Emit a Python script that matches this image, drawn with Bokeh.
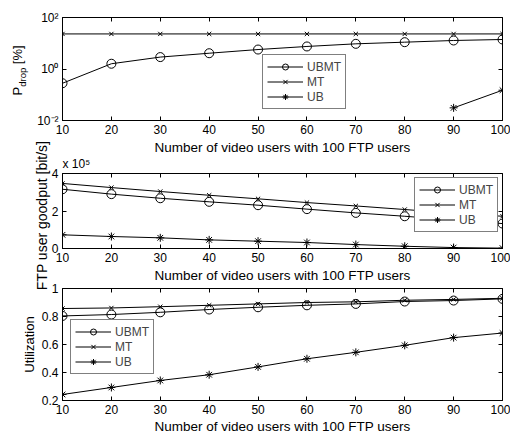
import math
from bokeh.plotting import figure
from bokeh.layouts import column
from bokeh.models import LinearAxis, LogAxis, FixedTicker, Range1d, GridBox
from bokeh.core.properties import value
from bokeh.embed import file_html
from bokeh.resources import INLINE

# ---------------- data ----------------
users = [10, 20, 30, 40, 50, 60, 70, 80, 90, 100]
series_names = ["UBMT", "MT", "UB"]

# P_drop [%]
pdrop_ubmt = [0.28, 1.6, 2.9, 4.1, 5.7, 7.5, 9.5, 11.0, 12.8, 14.0]
pdrop_mt = [23, 23, 23, 23, 23, 23, 23, 23, 23, 23]
pdrop_ub = [math.nan, math.nan, math.nan, math.nan, math.nan, math.nan, math.nan, math.nan, 0.031, 0.15]
pdrop_ticks = [0.01, 1, 100]
pdrop_tick_labels = {0.01: "10\u207b\u00b2", 1: "10\u2070", 100: "10\u00b2"}

# FTP user goodput [bit/s], in units of 1e5
goodput_ubmt = [3.16, 2.90, 2.68, 2.49, 2.31, 2.10, 1.90, 1.72, 1.52, 1.33]
goodput_mt = [3.47, 3.25, 3.04, 2.84, 2.65, 2.45, 2.27, 2.08, 1.88, 1.72]
goodput_ub = [0.73, 0.64, 0.57, 0.46, 0.39, 0.32, 0.21, 0.12, 0.05, 0.02]
goodput_ticks = [0, 2, 4]

# Utilization
util_ubmt = [0.804, 0.814, 0.830, 0.850, 0.866, 0.880, 0.890, 0.907, 0.914, 0.926]
util_mt = [0.857, 0.861, 0.870, 0.880, 0.890, 0.900, 0.905, 0.916, 0.922, 0.930]
util_ub = [0.243, 0.293, 0.343, 0.384, 0.440, 0.498, 0.544, 0.594, 0.649, 0.682]
util_ticks = [0.2, 0.4, 0.6, 0.8, 1]

xlabel = "Number of video users with 100 FTP users"
ylabel_goodput = "FTP user goodput [bit/s]"
ylabel_util = "Utilization"
goodput_multiplier = "x 10\u2075"

FONT = "Liberation Sans"
TICK_FS = "12px"

markers = {"UBMT": ("circle", 9), "MT": ("x", 6), "UB": ("asterisk", 8)}

W = 510
H1, H2, H3 = 155, 128, 151
BL, BR = 62, 8


def make_fig(height, btop, bbottom, y_range, log=False):
    p = figure(width=W, height=height, x_range=Range1d(10, 100), y_range=y_range,
               y_axis_type="log" if log else "linear",
               output_backend="svg", toolbar_location=None,
               min_border_left=BL, min_border_right=BR,
               min_border_top=btop, min_border_bottom=bbottom)
    p.grid.visible = False
    p.outline_line_color = "black"
    p.outline_line_width = 1
    p.background_fill_color = "white"
    p.border_fill_color = "white"
    for ax in p.xaxis + p.yaxis:
        ax.major_tick_in = 4
        ax.major_tick_out = 0
        ax.minor_tick_line_color = None
        ax.axis_line_color = "black"
        ax.major_tick_line_color = "black"
        ax.major_label_text_font = FONT
        ax.major_label_text_font_size = TICK_FS
        ax.major_label_text_color = "black"
        ax.major_label_standoff = 4
    p.xaxis.ticker = FixedTicker(ticks=users)
    return p


def box_axes(p, yticks, log=False):
    top = LinearAxis(ticker=FixedTicker(ticks=users),
                     major_label_overrides={t: "" for t in users},
                     major_label_text_font_size="1px",
                     axis_line_color=None, major_tick_in=4, major_tick_out=0,
                     minor_tick_line_color=None, major_label_standoff=0)
    p.add_layout(top, "above")
    cls = LogAxis if log else LinearAxis
    right = cls(ticker=FixedTicker(ticks=yticks),
                major_label_overrides={t: "" for t in yticks},
                major_label_text_font_size="1px",
                axis_line_color=None, major_tick_in=4, major_tick_out=0,
                minor_tick_line_color=None, major_label_standoff=0)
    p.add_layout(right, "right")


def draw_series(p, ys):
    for name, y in zip(series_names, ys):
        m, s = markers[name]
        p.line(users, y, line_color="black", line_width=1, legend_label=name)
        p.scatter(users, y, marker=m, size=s, line_color="black", fill_color=None,
                  line_width=1, legend_label=name)


def style_legend(p, loc):
    lg = p.legend[0]
    lg.location = loc
    lg.margin = 0
    lg.padding = 4
    lg.spacing = 0
    lg.glyph_width = 36
    lg.glyph_height = 15
    lg.label_height = 15
    lg.label_standoff = 4
    lg.label_text_font = FONT
    lg.label_text_font_size = "12px"
    lg.border_line_color = "black"
    lg.border_line_width = 1
    lg.background_fill_alpha = 1.0
    lg.label_text_baseline = "middle"


# ---------------- panel 1 ----------------
p1 = make_fig(H1, 17, 35, Range1d(0.01, 100), log=True)
p1.yaxis.ticker = FixedTicker(ticks=pdrop_ticks)
p1.yaxis.major_label_overrides = pdrop_tick_labels
draw_series(p1, [pdrop_ubmt, pdrop_mt, pdrop_ub])
box_axes(p1, pdrop_ticks, log=True)
style_legend(p1, (200, 11))

# ---------------- panel 2 ----------------
p2 = make_fig(H2, 18, 35, Range1d(0, 4))
p2.yaxis.ticker = FixedTicker(ticks=goodput_ticks)
draw_series(p2, [goodput_ubmt, goodput_mt, goodput_ub])
box_axes(p2, goodput_ticks)
style_legend(p2, (352, 16))

# ---------------- panel 3 ----------------
p3 = make_fig(H3, 5, 34, Range1d(0.2, 1))
p3.yaxis.ticker = FixedTicker(ticks=util_ticks)
p3.yaxis.major_label_overrides = {1: "1"}
draw_series(p3, [util_ubmt, util_mt, util_ub])
box_axes(p3, util_ticks)
style_legend(p3, (8, 26))

panels = column(p1, p2, p3, spacing=0)

# ---------------- overlay with axis titles (pixel coordinates, y downward) ----------------
HT = H1 + H2 + H3
ov = figure(width=W, height=HT, x_range=Range1d(0, W), y_range=Range1d(HT, 0),
            output_backend="svg", toolbar_location=None,
            x_axis_location=None, y_axis_location=None,
            min_border=0, min_border_left=0, min_border_right=0,
            min_border_top=0, min_border_bottom=0)
ov.grid.visible = False
ov.outline_line_color = None
ov.background_fill_color = None
ov.border_fill_color = None

xc = (BL + (W - BR)) / 2
# x-axis titles
ov.text(x=[xc, xc, xc], y=[147, 275, 426], text=[xlabel] * 3,
        text_font=value(FONT), text_font_size=value("13.5px"), text_color="black",
        text_align="center", text_baseline="middle")
# P_drop [%]
ov.text(x=[16.7, 16.7], y=[90.6, 54.3], text=["P", "[%]"], angle=math.pi / 2,
        text_font=value(FONT), text_font_size=value("13px"), text_color="black",
        text_align="center", text_baseline="middle")
ov.text(x=[21.5], y=[76.8], text=["drop"], angle=math.pi / 2,
        text_font=value(FONT), text_font_size=value("9.5px"), text_color="black",
        text_align="center", text_baseline="middle")
# goodput title
ov.text(x=[41.5], y=[215], text=[ylabel_goodput], angle=math.pi / 2,
        text_font=value(FONT), text_font_size=value("14px"), text_color="black",
        text_align="center", text_baseline="middle")
# utilization title
ov.text(x=[29], y=[344], text=[ylabel_util], angle=math.pi / 2,
        text_font=value(FONT), text_font_size=value("13px"), text_color="black",
        text_align="center", text_baseline="middle")
# multiplier
ov.text(x=[BL], y=[170], text=[goodput_multiplier],
        text_font=value(FONT), text_font_size=value("12px"), text_color="black",
        text_align="left", text_baseline="bottom")

layout = GridBox(children=[(panels, 0, 0), (ov, 0, 0)])
open("out.html", "w").write(file_html(layout, INLINE))
